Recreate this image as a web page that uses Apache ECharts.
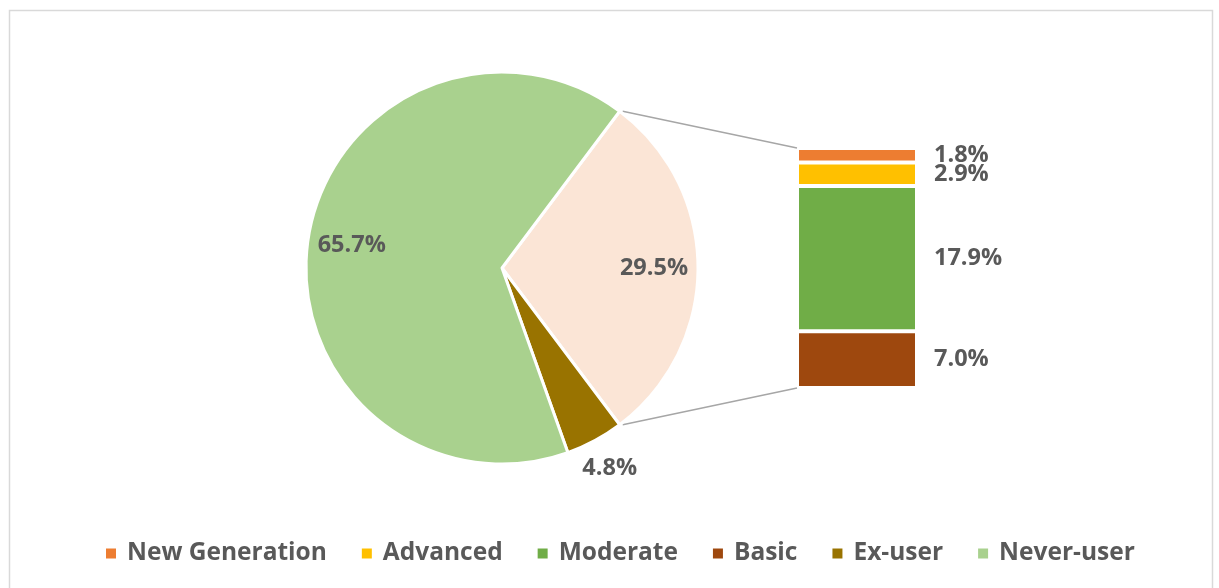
<!DOCTYPE html>
<html>
<head>
<meta charset="utf-8">
<script src="https://cdn.jsdelivr.net/npm/echarts@6/dist/echarts.min.js"></script>
<style>
html,body{margin:0;padding:0;background:#fff;}
#chart{width:1219px;height:588px;}
</style>
</head>
<body>
<div id="chart"></div>
<script>
// ---- data ----
const PIE_NAMES = ['Other', 'Ex-user', 'Never-user'];
const PIE_VALUES = [29.5, 4.8, 65.7];
const BAR_NAMES = ['Basic', 'Moderate', 'Advanced', 'New Generation']; // bottom to top
const BAR_VALUES = [7.0, 17.9, 2.9, 1.8];
const LEGEND_ORDER = ['New Generation', 'Advanced', 'Moderate', 'Basic', 'Ex-user', 'Never-user'];

// ---- styles ----
const PIE_COLORS = ['#FBE5D6', '#997300', '#A9D18E'];
const BAR_COLORS = ['#9E480E', '#70AD47', '#FFC000', '#ED7D31'];
const TXT = '#595959';
const FONT = '"Open Sans", "Noto Sans", sans-serif';
const FS = 23.5;
const LFS = 24.5;
const CX = 502, CY = 268, R = 196;
const GRID_L = 797, GRID_W = 120, GRID_T = 148, GRID_B = 200;

const total = PIE_VALUES.reduce((a, b) => a + b, 0);
const startAngle = PIE_VALUES[0] / total * 360 / 2;
const barTotal = BAR_VALUES.reduce((a, b) => a + b, 0);

const chart = echarts.init(document.getElementById('chart'));

const labelStyle = {color: TXT, fontFamily: FONT, fontWeight: 'bold', fontSize: FS};

function overlayPie(r0, r1, showIdx) {
  return {
    type: 'pie', silent: true, center: [CX, CY], radius: [r0, r1],
    startAngle: startAngle, clockwise: true, avoidLabelOverlap: false,
    legendHoverLink: false,
    itemStyle: {color: 'rgba(0,0,0,0)', borderWidth: 0},
    labelLine: {show: false},
    emphasis: {disabled: true},
    data: PIE_VALUES.map((v, i) => ({
      value: v, name: '',
      label: Object.assign({show: showIdx.includes(i), position: 'inside',
        formatter: p => p.value.toFixed(1) + '%'}, labelStyle)
    })),
    z: 5
  };
}

const series = [
  {
    type: 'pie', center: [CX, CY], radius: R,
    startAngle: startAngle, clockwise: true, avoidLabelOverlap: false,
    label: {show: false}, labelLine: {show: false},
    itemStyle: {borderColor: '#fff', borderWidth: 3},
    emphasis: {disabled: true},
    data: PIE_VALUES.map((v, i) => ({value: v, name: PIE_NAMES[i], itemStyle: {color: PIE_COLORS[i]}}))
  },
  overlayPie(102, 196, [0, 2]),
  overlayPie(198, 251, [1])
];

BAR_NAMES.forEach((n, i) => {
  series.push({
    type: 'bar', name: n, stack: 'all', barWidth: '100%',
    xAxisIndex: 0, yAxisIndex: 0,
    itemStyle: {color: BAR_COLORS[i], borderColor: '#fff', borderWidth: 2},
    label: Object.assign({show: true, position: 'right', distance: 17,
      formatter: p => p.value.toFixed(1) + '%'}, labelStyle),
    emphasis: {disabled: true},
    data: [BAR_VALUES[i]]
  });
});

chart.setOption({
  animation: false,
  backgroundColor: '#fff',
  grid: {left: GRID_L, width: GRID_W, top: GRID_T, bottom: GRID_B, containLabel: false},
  xAxis: {type: 'category', data: ['Other'], show: false},
  yAxis: {type: 'value', min: 0, max: barTotal, show: false},
  legend: {
    data: LEGEND_ORDER, left: 104, top: 541, padding: 0, icon: 'rect', itemWidth: 12, itemHeight: 12,
    itemGap: 33, selectedMode: false,
    textStyle: {color: TXT, fontFamily: FONT, fontWeight: 'bold', fontSize: LFS, padding: [0, 0, 0, 5]}
  },
  series: series
});

// connector lines computed from pie geometry & bar axis
const half = startAngle * Math.PI / 180;
const p1 = [CX + R * Math.cos(half), CY - R * Math.sin(half)];
const p2 = [CX + R * Math.cos(half), CY + R * Math.sin(half)];
const xLeft = chart.convertToPixel({xAxisIndex: 0}, 'Other') - GRID_W / 2;
const yTop = chart.convertToPixel({yAxisIndex: 0}, barTotal);
const yBot = chart.convertToPixel({yAxisIndex: 0}, 0);
chart.setOption({
  graphic: [
    {type: 'rect', shape: {x: 9.5, y: 10.5, width: 1203, height: 620}, style: {fill: 'none', stroke: '#D9D9D9', lineWidth: 1.5}, silent: true, z: -1},
    {type: 'line', shape: {x1: p1[0] + 3, y1: p1[1], x2: xLeft, y2: yTop}, style: {stroke: '#A6A6A6', lineWidth: 1.5}, silent: true},
    {type: 'line', shape: {x1: p2[0] + 3, y1: p2[1], x2: xLeft, y2: yBot}, style: {stroke: '#A6A6A6', lineWidth: 1.5}, silent: true}
  ]
});
</script>
</body>
</html>
